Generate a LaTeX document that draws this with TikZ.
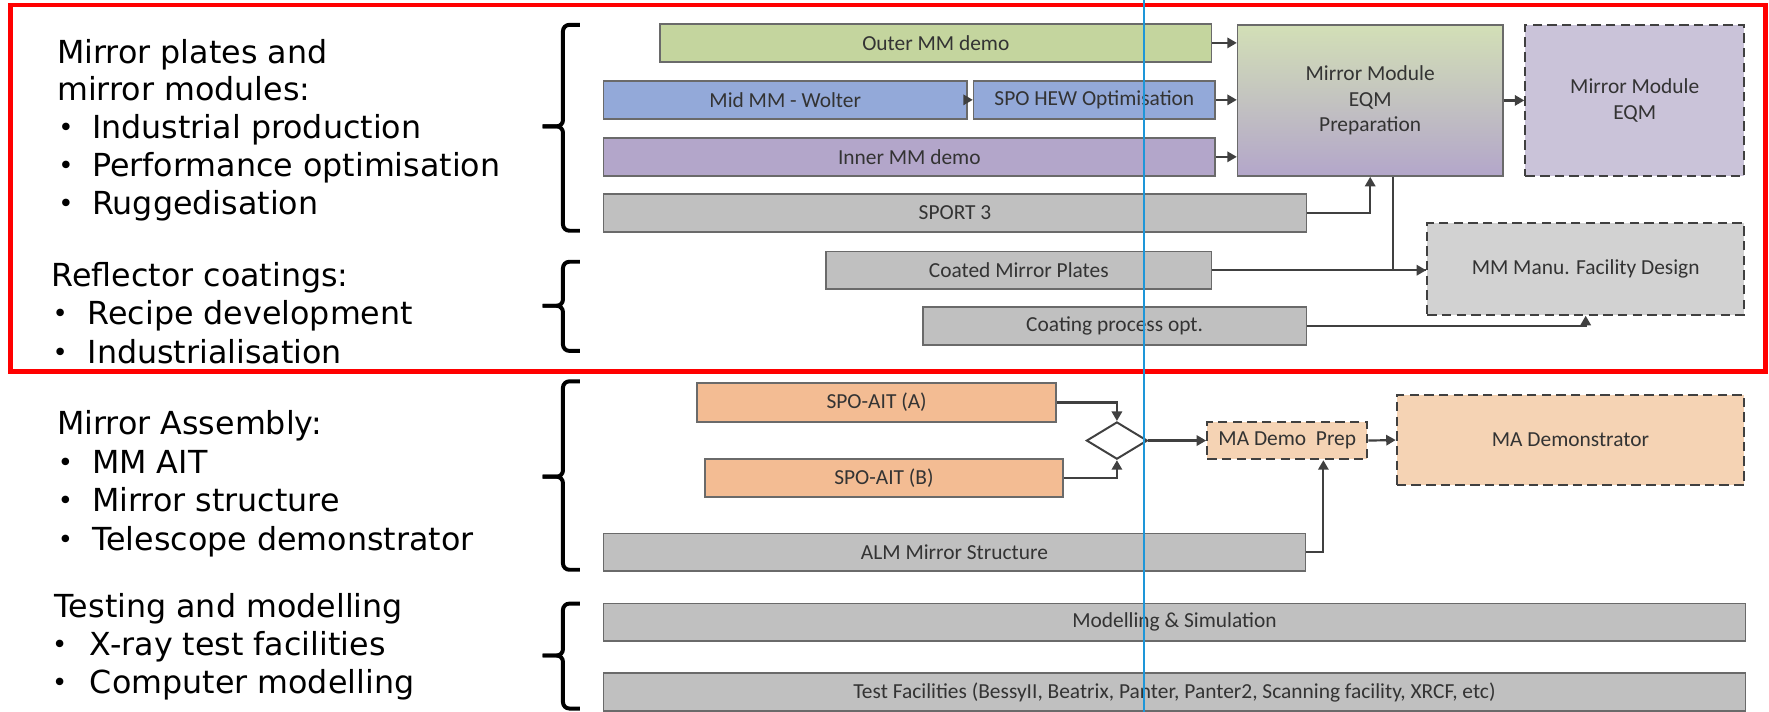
\documentclass[tikz,border=0pt]{standalone}
\usepackage{fontspec}
\setmainfont{Carlito}
\newfontfamily\sidefamily{DejaVu Sans}
\usetikzlibrary{arrows.meta, positioning, shapes.geometric, calc}
\definecolor{spored}{HTML}{FF0000}
\definecolor{spoblue}{HTML}{1E96D8}
\definecolor{spogray}{HTML}{C0C0C0}
\definecolor{spogreen}{HTML}{C4D59E}
\definecolor{spoperi}{HTML}{93A9D9}
\definecolor{spopurple}{HTML}{B3A6CA}
\definecolor{spoorange}{HTML}{F3BC93}
\definecolor{spolilac}{HTML}{CAC3D9}
\definecolor{spolight}{HTML}{D2D2D2}
\definecolor{spopeach}{HTML}{F5D3B4}
\definecolor{spoedge}{HTML}{6A6A6A}
\definecolor{spoline}{HTML}{404040}
\definecolor{spotext}{HTML}{333333}
\newcommand{\barfont}{\fontsize{5.4}{6.5}\selectfont}
\newcommand{\sidefont}{\sidefamily\fontsize{8}{9.6}\selectfont}
\newcommand{\itemdot}[1]{\makebox[#1][l]{\raisebox{0.5pt}{\fontsize{6.5}{6.5}\selectfont\textbullet}}}

\begin{document}
\begin{tikzpicture}[
  bar/.style={rectangle, draw=spoedge, line width=0.4pt, fill=spogray, minimum height=0.335cm, inner sep=0pt, font=\barfont, text=spotext},
  planned/.style={bar, draw=spoline, line width=0.5pt, dash pattern=on 2.4pt off 1.3pt},
  conn/.style={draw=spoline, line width=0.55pt, -{Triangle[length=2.4pt, width=2.6pt]}},
  link/.style={draw=spoline, line width=0.55pt},
  side/.style={anchor=base west, inner sep=0pt, font=\sidefont},
  brace/.style={line width=1pt, rounded corners=1.6pt},
]
\useasboundingbox (0,0) rectangle (15.68,-6.31);

% left column
\node[side] (mpa) at (0.50,-0.56) {Mirror plates and};
\node[side] (mpb) at (0.50,-0.89) {mirror modules:};
\node[side] (mpc) at (0.51,-1.225) {\itemdot{0.30cm}Industrial production};
\node[side] (mpd) at (0.51,-1.565) {\itemdot{0.30cm}Performance optimisation};
\node[side] (mpe) at (0.51,-1.905) {\itemdot{0.30cm}Ruggedisation};
\node[side] (rca) at (0.45,-2.54) {Reflector coatings:};
\node[side] (rcb) at (0.46,-2.88) {\itemdot{0.31cm}Recipe development};
\node[side] (rcc) at (0.46,-3.22) {\itemdot{0.31cm}Industrialisation};
\node[side] (maa) at (0.50,-3.855) {Mirror Assembly:};
\node[side] (mab) at (0.505,-4.195) {\itemdot{0.305cm}MM AIT};
\node[side] (mac) at (0.505,-4.535) {\itemdot{0.305cm}Mirror structure};
\node[side] (mad) at (0.505,-4.875) {\itemdot{0.305cm}Telescope demonstrator};
\node[side] (tma) at (0.48,-5.47) {Testing and modelling};
\node[side] (tmb) at (0.455,-5.81) {\itemdot{0.335cm}X-ray test facilities};
\node[side] (tmc) at (0.455,-6.145) {\itemdot{0.335cm}Computer modelling};

% braces
\draw[brace] (5.14,-0.22) -- (4.99,-0.22) -- (4.99,-1.12) -- (4.81,-1.12);
\draw[brace] (4.81,-1.12) -- (4.99,-1.12) -- (4.99,-2.045) -- (5.14,-2.045);
\draw[brace] (5.14,-2.32) -- (4.99,-2.32) -- (4.99,-2.71) -- (4.81,-2.71);
\draw[brace] (4.81,-2.71) -- (4.99,-2.71) -- (4.99,-3.11) -- (5.14,-3.11);
\draw[brace] (5.14,-3.38) -- (4.99,-3.38) -- (4.99,-4.225) -- (4.81,-4.225);
\draw[brace] (4.81,-4.225) -- (4.99,-4.225) -- (4.99,-5.05) -- (5.14,-5.05);
\draw[brace] (5.14,-5.35) -- (4.99,-5.35) -- (4.99,-5.81) -- (4.81,-5.81);
\draw[brace] (4.81,-5.81) -- (4.99,-5.81) -- (4.99,-6.28) -- (5.14,-6.28);

% mirror modules
\node[bar, fill=spogreen, minimum width=4.89cm] (outer) at (8.295,-0.38) {Outer MM demo};
\node[bar, fill=spoperi, minimum width=3.22cm] (mid) at (6.96,-0.885) {Mid MM - Wolter};
\node[bar, fill=spoperi, minimum width=2.14cm] (hew) at (9.70,-0.885) {SPO HEW Optimisation};
\node[bar, fill=spopurple, minimum width=5.42cm] (inner) at (8.06,-1.39) {Inner MM demo};
\node[bar, minimum width=6.23cm] (sport) at (8.465,-1.8875) {SPORT 3};
\node[bar, top color=spogreen!75!white, bottom color=spopurple, minimum width=2.35cm, minimum height=1.34cm, align=center] (prep) at (12.145,-0.89) {Mirror Module\\EQM\\Preparation};
\node[planned, fill=spolilac, minimum width=1.94cm, minimum height=1.34cm, align=center] (eqm) at (14.49,-0.89) {Mirror Module\\EQM};

% coatings
\node[bar, minimum width=3.42cm] (coated) at (9.03,-2.395) {Coated Mirror Plates};
\node[bar, minimum width=3.40cm] (coatproc) at (9.88,-2.89) {Coating process opt.};
\node[planned, fill=spolight, minimum width=2.81cm, minimum height=0.81cm] (manu) at (14.055,-2.385) {MM Manu. Facility Design};

% assembly
\node[bar, fill=spoorange, minimum width=3.18cm, minimum height=0.345cm] (aitA) at (7.77,-3.5675) {SPO-AIT (A)};
\node[bar, fill=spoorange, minimum width=3.17cm] (aitB) at (7.835,-4.2375) {SPO-AIT (B)};
\node[diamond, draw=spoline, line width=0.5pt, fill=white, minimum width=0.54cm, minimum height=0.33cm, inner sep=0pt] (dia) at (9.90,-3.905) {};
\node[planned, fill=spopeach, minimum width=1.42cm, minimum height=0.33cm] (maprep) at (11.41,-3.905) {MA Demo~~Prep};
\node[planned, fill=spopeach, minimum width=3.08cm, minimum height=0.80cm] (mademo) at (13.92,-3.90) {MA Demonstrator};
\node[bar, minimum width=6.22cm] (alm) at (8.46,-4.895) {ALM Mirror Structure};

% testing
\node[bar, minimum width=10.12cm] (model) at (10.41,-5.515) {Modelling \& Simulation};
\node[bar, minimum width=10.12cm] (tests) at (10.41,-6.135) {Test Facilities (BessyII, Beatrix, Panter, Panter2, Scanning facility, XRCF, etc)};

% connectors
\draw[conn] (outer.east) -- (outer.east -| prep.west);
\draw[conn] (mid.east) -- (hew.west);
\draw[conn] (hew.east) -- (hew.east -| prep.west);
\draw[conn] (inner.east) -- (inner.east -| prep.west);
\draw[conn] (sport.east) -| (prep.south);
\draw[conn] (prep.east) -- (eqm.west);
\draw[conn] (coated.east) -- (coated.east -| manu.west);
\draw[link] ([xshift=2mm]prep.south) |- (coated.east -| manu.west);
\draw[conn] (coatproc.east) -| (manu.south);
\draw[conn] (aitA.east) -| (dia.north);
\draw[conn] (aitB.east) -| (dia.south);
\draw[conn] (dia.east) -- (maprep.west);
\draw[conn] (maprep.east) -- (mademo.west);
\draw[conn] (alm.east) -| ([xshift=3.2mm]maprep.south);

% frame and marker
\draw[spored, line width=1.25pt] (0.097,-0.044) rectangle (15.65,-3.29);
\draw[spoblue, line width=0.45pt] (10.14,0) -- (10.14,-6.31);

\end{tikzpicture}
\end{document}
